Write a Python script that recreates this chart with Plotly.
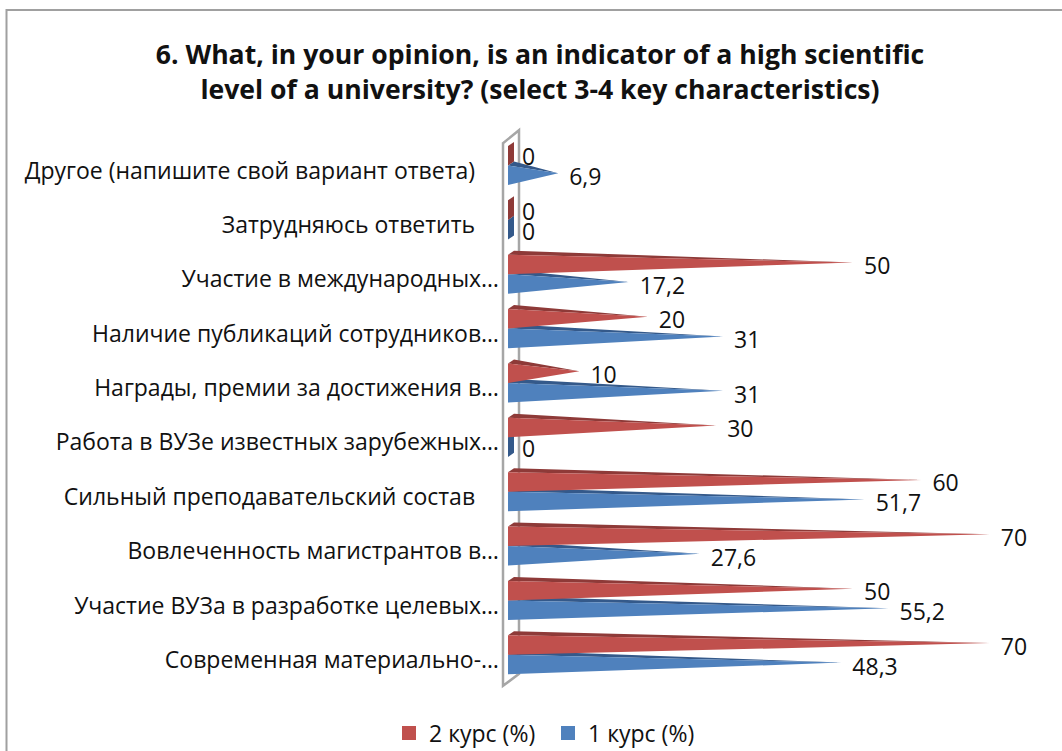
import plotly.graph_objects as go

categories = [
    "Современная материально-…",
    "Участие ВУЗа в разработке целевых…",
    "Вовлеченность магистрантов в…",
    "Сильный преподавательский состав\u00a0\u00a0\u00a0\u00a0",
    "Работа в ВУЗе известных зарубежных…",
    "Награды, премии за достижения в…",
    "Наличие публикаций сотрудников…",
    "Участие в международных…",
    "Затрудняюсь ответить\u00a0\u00a0\u00a0\u00a0",
    "Другое (напишите свой вариант ответа)\u00a0\u00a0\u00a0\u00a0",
]
course_2 = [70, 50, 70, 60, 30, 10, 20, 50, 0, 0]
course_1 = [48.3, 55.2, 27.6, 51.7, 0, 31, 31, 17.2, 0, 6.9]

TITLE = "6. What, in your opinion, is an indicator of a high scientific<br>level of a university? (select 3-4 key characteristics)"
FONT = "Open Sans"
TEXT_SIZE = 23
RED, RED_DK = "#C0504D", "#8E3A38"
BLUE, BLUE_DK = "#4F81BD", "#34598A"

# pixel scale of the axes
W, H = 1062, 751
PAPER_H = 710.6   # plot region height once the legend has reserved its strip
X0_PX, K = 508, 6.84
Y0_PX, U = 654, 54.3
L_PX, R_PX, T_PX, B_PX = 500, 1042, 125, 695
x_range = [(L_PX - X0_PX) / K, (R_PX - X0_PX) / K]
y_range = [(Y0_PX - B_PX) / U, (Y0_PX - T_PX) / U]

HALF = 19.5 / U
DX, DY = 6 / K, 4 / U
TIP_DX, TIP_DY = 3 / K, 2 / U


def paper_y(p):
    return (PAPER_H - p) / PAPER_H


def faces(vals, lo, hi):
    front_x, front_y, top_x, top_y, base_x, base_y = [], [], [], [], [], []
    for i, v in enumerate(vals):
        y_b, y_t = i + lo, i + hi
        tip_x, tip_y = v + TIP_DX, (y_b + y_t) / 2 + TIP_DY
        if v > 0:
            front_x += [0, 0, tip_x, 0, None]
            front_y += [y_b, y_t, tip_y, y_b, None]
            top_x += [0, DX, tip_x, 0, None]
            top_y += [y_t, y_t + DY, tip_y, y_t, None]
        else:
            base_x += [0, DX, DX, 0, 0, None]
            base_y += [y_b, y_b + DY, y_t + DY, y_t, y_b, None]
    return front_x, front_y, top_x, top_y, base_x, base_y


def poly(x, y, color):
    return go.Scatter(x=x, y=y, mode="lines", fill="toself", fillcolor=color,
                      line=dict(width=0, color=color), hoverinfo="skip",
                      showlegend=False, cliponaxis=False)


def fmt(v):
    return f"{v:g}".replace(".", ",")


fig = go.Figure()
for vals, lo, hi, col, dk in [
    (course_1, -HALF, 0, BLUE, BLUE_DK),
    (course_2, 0, HALF, RED, RED_DK),
]:
    fx, fy, tx, ty, bx, by = faces(vals, lo, hi)
    fig.add_trace(poly(bx, by, dk))
    fig.add_trace(poly(tx, ty, dk))
    fig.add_trace(poly(fx, fy, col))

# data labels
LABEL_DX = 14 / K
for vals, dy in [(course_2, 6 / U), (course_1, -14 / U)]:
    fig.add_trace(go.Scatter(
        x=[v + LABEL_DX for v in vals],
        y=[i + dy for i in range(len(vals))],
        mode="text", text=[fmt(v) for v in vals], textposition="middle right",
        textfont=dict(family=FONT, size=TEXT_SIZE, color="#111111"),
        hoverinfo="skip", showlegend=False, cliponaxis=False,
    ))

# legend entries
for name, col in [("2 курс (%)", RED), ("1 курс (%)", BLUE)]:
    fig.add_trace(go.Scatter(x=[None], y=[None], mode="markers", name=name,
                             marker=dict(symbol="square", size=14, color=col)))


def px_x(p):
    return (p - X0_PX) / K


def px_y(p):
    return (Y0_PX - p) / U


wall = [(503, 143), (519, 130), (519, 673), (503, 685)]
path = "M " + " L ".join(f"{px_x(a)},{px_y(b)}" for a, b in wall) + " Z"

fig.update_layout(
    width=W, height=H, autosize=False,
    margin=dict(l=0, r=0, t=0, b=0, pad=0),
    paper_bgcolor="white", plot_bgcolor="white",
    font=dict(family=FONT, size=TEXT_SIZE, color="#111111"),
    title=dict(text=TITLE, x=540 / W, xanchor="center", y=1 - 64 / H, yanchor="middle",
               font=dict(family=FONT, size=26.6, color="#111111", weight="bold")),
    xaxis=dict(domain=[L_PX / W, R_PX / W], range=x_range, visible=False, fixedrange=True),
    yaxis=dict(domain=[paper_y(B_PX), paper_y(T_PX)], range=y_range, tickmode="array",
               tickvals=[i - 5 / U for i in range(len(categories))],
               ticktext=categories, showgrid=False, zeroline=False, showline=False,
               ticks="", tickfont=dict(family=FONT, size=TEXT_SIZE, color="#111111"),
               fixedrange=True),
    legend=dict(orientation="h", xref="container", yref="container",
                x=389 / W, xanchor="left", y=1 - 733 / H, yanchor="middle",
                font=dict(family=FONT, size=TEXT_SIZE), bgcolor="rgba(0,0,0,0)",
                itemwidth=30, traceorder="normal", entrywidth=114, entrywidthmode="pixels"),
    shapes=[
        dict(type="path", path=path, xref="x", yref="y", layer="below",
             line=dict(color="#A6A6A6", width=2.5)),
        dict(type="rect", xref="paper", yref="paper", layer="below",
             x0=6.5 / W, x1=1090 / W, y0=paper_y(790), y1=paper_y(10),
             line=dict(color="#A0A0A0", width=2)),
    ],
)

fig.write_html("out.html", config={"displayModeBar": False},
               post_script="document.body.style.margin='0';document.body.style.overflow='hidden';")
